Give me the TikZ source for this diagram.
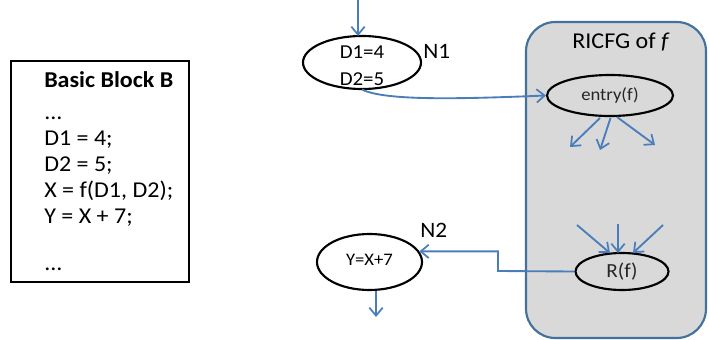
\documentclass[tikz,border=0pt]{standalone}
\usepackage{fontspec}
\setmainfont[FakeStretch=1.06]{Carlito}
\usetikzlibrary{arrows.meta,shapes.geometric}
\definecolor{flow}{HTML}{4A7EBB}
\definecolor{panel}{HTML}{D9D9D9}
\definecolor{panelrim}{HTML}{41719C}
\tikzset{
  fs/.style={font=\fontsize{#1}{#1}\selectfont},
  code/.style={anchor=base west,inner sep=0pt,fs=17},
  oval/.style={ellipse,draw=black,line width=1.6pt,inner sep=0pt},
  edge/.style={draw=flow,line width=1.4pt,-{Straight Barb[length=6pt,width=10pt,line width=1.3pt]}},
}
\begin{document}
\begin{tikzpicture}[x=0.75pt,y=-0.75pt]
\useasboundingbox (0,0) rectangle (709,339);

% basic block listing
\node[draw=black,line width=1.3pt,minimum width=133.5pt,minimum height=165.75pt,inner sep=0pt] (bb) at (100,171.5) {};
\node[code] (t0) at (44,87) {\bfseries Basic Block B};
\node[code] (t1) at (44,119) {...};
\node[code] (t2) at (44,145) {D1 = 4;};
\node[code] (t3) at (44,171) {D2 = 5;};
\node[code] (t4) at (44,197) {X = f(D1, D2);};
\node[code] (t5) at (44,223) {Y = X + 7;};
\node[code] (t6) at (44,270) {...};

% region of the callee
\node[draw=panelrim,fill=panel,line width=1.6pt,rounded corners=22pt,minimum width=135pt,minimum height=237pt,inner sep=0pt] (ric) at (616,180) {};
\node[fs=17,anchor=base,inner sep=0pt] (rt) at (621,48) {RICFG of \textit{f}};

% call-site nodes
\node[oval,minimum width=88.5pt,minimum height=39.75pt] (n1) at (362,62.5) {};
\node[fs=14.8,anchor=base,inner sep=0pt] (n1a) at (362,58) {D1=4};
\node[fs=14.8,anchor=base,inner sep=0pt] (n1b) at (362,85) {D2=5};
\node[fs=16.5,anchor=base west,inner sep=0pt] (n1l) at (423,58) {N1};

\node[oval,minimum width=78.75pt,minimum height=42pt] (n2) at (369.5,262) {};
\node[fs=13.2,anchor=base,inner sep=0pt] (n2t) at (369.5,265) {Y=X+7};
\node[fs=16.5,anchor=base west,inner sep=0pt] (n2l) at (420,237) {N2};

\node[oval,minimum width=94.5pt,minimum height=30.75pt,fs=13.2,text=black!85] (en) at (610,95.5) {entry(f)};
\node[oval,minimum width=69.75pt,minimum height=27.75pt,fs=15,text=black!85] (rf) at (622,271.5) {R(f)};

% connectors
\coordinate (in1) at (358,0);
\coordinate (out2) at (376,317);
\draw[edge] (in1) -- (358,36);
\draw[edge] (n2.south -| out2) -- (out2);
\draw[edge] (362,89.5) .. controls (385,101) and (460,99) .. (en.west);
\draw[edge] (rf.west) -- (498,271) |- (n2.12);

\coordinate (e1) at (570,147);
\coordinate (e2) at (600,150);
\coordinate (e3) at (655,145);
\draw[edge] (600,118) -- (e1);
\draw[edge] (610.5,118) -- (e2);
\draw[edge] (617,117) -- (e3);

\coordinate (r1) at (577,225);
\coordinate (r2) at (618,224);
\coordinate (r3) at (663,225);
\draw[edge] (r1) -- (610,253);
\draw[edge] (r2) -- (618,253);
\draw[edge] (r3) -- (633,253);
\end{tikzpicture}
\end{document}
